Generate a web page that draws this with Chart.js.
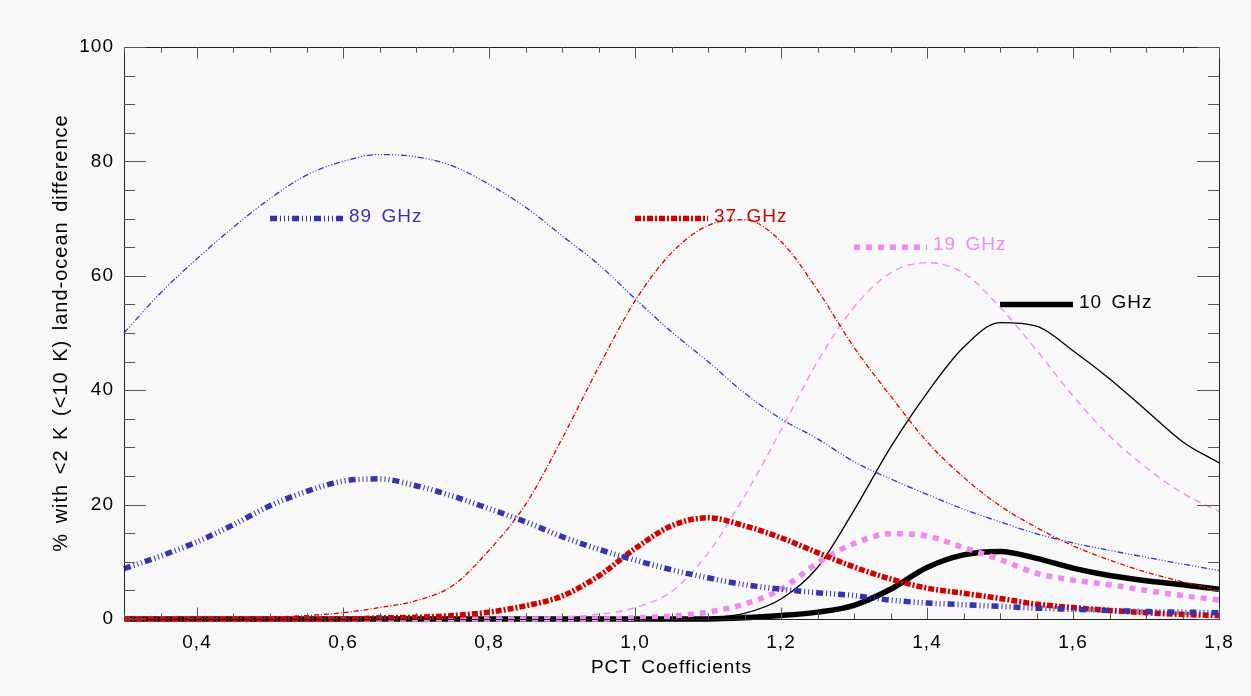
<!DOCTYPE html>
<html>
<head>
<meta charset="utf-8">
<script src="https://cdn.jsdelivr.net/npm/chart.js@4"></script>
<style>
  html, body { margin: 0; padding: 0; background: #f8f8f8; }
  #wrap { width: 1251px; height: 696px; }
</style>
</head>
<body>
<div id="wrap"><canvas id="grafico" width="1251" height="696"></canvas></div>
<script>
// coeficientes PCT (eje x)
var coefs = [0.30, 0.35, 0.40, 0.45, 0.50, 0.55, 0.60, 0.65, 0.70, 0.75, 0.80,
             0.85, 0.90, 0.95, 1.00, 1.05, 1.10, 1.15, 1.20, 1.25, 1.30,
             1.35, 1.40, 1.45, 1.50, 1.55, 1.60, 1.65, 1.70, 1.75, 1.80];

// % con diferencia tierra-oceano < 10 K (lineas finas)
var g89_10K = [50, 57, 63, 68.5, 73.5, 77.6, 80, 81.2, 80.8, 79.2, 76,
               72, 67, 62, 56, 50.2, 45, 39.5, 35, 31.5, 27.5,
               24.5, 21.8, 19.2, 17, 14.9, 13.3, 12, 10.8, 9.6, 8.5];
var g37_10K = [0, 0, 0, 0.1, 0.3, 0.6, 1.1, 2, 3.2, 5.8, 12,
               20, 31.5, 44, 55.6, 64, 68.8, 69.8, 66, 57.5, 47.5,
               39, 31, 24.8, 19.8, 16, 12.8, 10.3, 8.2, 6.5, 5];
var g19_10K = [0, 0, 0, 0, 0, 0, 0, 0, 0, 0, 0,
               0.2, 0.4, 0.8, 2, 4.8, 11.5, 21.5, 33, 45, 54.5,
               60.5, 62.3, 60.5, 54.5, 47, 39, 32, 26.5, 22, 18.8];
var g10_10K = [0, 0, 0, 0, 0, 0, 0, 0, 0, 0, 0,
               0, 0, 0, 0, 0, 0.2, 1, 3.5, 9, 19,
               30, 39.5, 47.5, 51.8, 51.2, 46.9, 42, 36.5, 31, 27.3];

// % con diferencia < 2 K (lineas gruesas)
var g89_2K = [8.8, 11, 13.5, 16.5, 19.8, 22.3, 24.1, 24.5, 23.3, 21.5, 19.3,
              17, 14.4, 12.2, 10.3, 8.6, 7.2, 6, 5.2, 4.6, 4.1,
              3.3, 2.8, 2.5, 2.2, 1.9, 1.7, 1.5, 1.3, 1.2, 1.1];
var g37_2K = [0, 0, 0, 0, 0, 0, 0, 0.2, 0.3, 0.6, 1.2,
              2.3, 4, 7.5, 12.3, 16.3, 17.7, 16.3, 14.2, 11.6, 9.1,
              7, 5.4, 4.5, 3.6, 2.6, 2, 1.5, 1.1, 0.8, 0.6];
var g19_2K = [0, 0, 0, 0, 0, 0, 0, 0, 0, 0, 0,
              0, 0, 0, 0.2, 0.5, 1.2, 2.6, 5.2, 9.8, 13.2,
              14.9, 14.5, 12.5, 10.4, 8, 6.8, 6, 5, 4.1, 3.3];
var g10_2K = [0, 0, 0, 0, 0, 0, 0, 0, 0, 0, 0,
              0, 0, 0, 0, 0, 0, 0.2, 0.6, 1.2, 2.4,
              5.2, 9, 11.2, 11.8, 10.6, 8.9, 7.6, 6.7, 6, 5.2];

var etiquetas = ['89 GHz', '37 GHz', '19 GHz', '10 GHz'];
var ticksX = [0.4, 0.6, 0.8, 1.0, 1.2, 1.4, 1.6, 1.8];
var ticksY = [0, 20, 40, 60, 80, 100];

// estilos por frecuencia
var colores = ['#3434b0', '#d40000', '#ee8aee', '#000000'];
var trazoFino = [[6, 2, 1, 2, 1, 2, 1, 2], [5, 2, 1, 2], [7, 5], []];
var trazoGrueso = [[7, 3, 1, 3, 1, 3, 1, 3], [6, 2, 2, 2], [6, 6], []];
// posicion de la leyenda dentro del grafico
var leyenda = [
  {x0: 0.5, x1: 0.6, y: 70},
  {x0: 1.0, x1: 1.1, y: 70},
  {x0: 1.3, x1: 1.4, y: 65},
  {x0: 1.5, x1: 1.6, y: 55}
];

var fuente = 'Liberation Sans';

function pares(valores) {
  return valores.map(function (v, i) { return {x: coefs[i], y: v}; });
}

var finos = [g89_10K, g37_10K, g19_10K, g10_10K];
var gruesos = [g89_2K, g37_2K, g19_2K, g10_2K];
var xDato = [];

for (var i = 0; i < 4; i++) {
  xDato.push({
    label: etiquetas[i] + ' <10 K',
    data: pares(finos[i]),
    borderColor: colores[i],
    borderWidth: 1.3,
    borderDash: trazoFino[i],
    cubicInterpolationMode: 'monotone',
    clip: 8
  });
  xDato.push({
    label: etiquetas[i] + ' <2 K',
    data: pares(gruesos[i]),
    borderColor: colores[i],
    borderWidth: 5.5,
    borderDash: trazoGrueso[i],
    cubicInterpolationMode: 'monotone',
    clip: 8
  });
  xDato.push({
    label: etiquetas[i],
    data: [{x: leyenda[i].x0, y: leyenda[i].y}, {x: leyenda[i].x1, y: leyenda[i].y}],
    borderColor: colores[i],
    borderWidth: 5.5,
    borderDash: trazoGrueso[i],
    clip: 8
  });
}

// espaciado de letras parecido al de IDL
var espaciado = {
  id: 'espaciado',
  beforeDraw: function (chart) {
    chart.ctx.letterSpacing = '1px';
    chart.ctx.wordSpacing = '3px';
  }
};

// marco y marcas hacia dentro, como en IDL
var marcoIDL = {
  id: 'marcoIDL',
  afterDatasetsDraw: function (chart) {
    var ctx = chart.ctx, a = chart.chartArea;
    var sx = chart.scales.x, sy = chart.scales.y;
    var w = a.right - a.left, h = a.bottom - a.top;
    ctx.save();
    ctx.strokeStyle = '#222';
    ctx.lineWidth = 1;
    ctx.strokeRect(Math.round(a.left) + 0.5, Math.round(a.top) + 0.5, Math.round(w), Math.round(h));
    ctx.strokeStyle = '#555';
    ctx.beginPath();
    var v, px, largo;
    for (v = 0.3; v <= 1.8001; v += 0.05) {
      px = Math.round(sx.getPixelForValue(v)) + 0.5;
      largo = (Math.abs(v * 10 - Math.round(v * 10)) < 0.01 && Math.round(v * 10) % 2 === 0) ? h * 0.02 : h * 0.01;
      ctx.moveTo(px, a.bottom); ctx.lineTo(px, a.bottom - largo);
      ctx.moveTo(px, a.top); ctx.lineTo(px, a.top + largo);
    }
    for (v = 0; v <= 100; v += 5) {
      px = Math.round(sy.getPixelForValue(v)) + 0.5;
      largo = (v % 20 === 0) ? w * 0.02 : w * 0.01;
      ctx.moveTo(a.left, px); ctx.lineTo(a.left + largo, px);
      ctx.moveTo(a.right, px); ctx.lineTo(a.right - largo, px);
    }
    ctx.stroke();
    // textos de la leyenda
    ctx.font = '19px "' + fuente + '"';
    ctx.textBaseline = 'middle';
    ctx.textAlign = 'left';
    for (var i = 0; i < leyenda.length; i++) {
      ctx.fillStyle = colores[i];
      ctx.fillText(etiquetas[i], sx.getPixelForValue(leyenda[i].x1) + 6, sy.getPixelForValue(leyenda[i].y) - 2);
    }
    ctx.restore();
  }
};

var ctx = document.getElementById('grafico').getContext('2d');
var chart = new Chart(ctx, {
  type: 'line',
  data: {datasets: xDato},
  options: {
    responsive: false,
    animation: false,
    devicePixelRatio: 1,
    layout: {padding: {left: 0, right: 32, top: 47, bottom: 0}},
    elements: {point: {radius: 0}},
    plugins: {legend: {display: false}, tooltip: {enabled: false}},
    scales: {
      x: {
        type: 'linear', min: 0.3, max: 1.8,
        grid: {display: false, drawTicks: false},
        border: {display: false},
        afterBuildTicks: function (s) { s.ticks = ticksX.map(function (v) { return {value: v}; }); },
        afterFit: function (s) { s.height = 77; },
        ticks: {
          padding: 12, color: '#000', maxRotation: 0, autoSkip: false,
          font: {family: fuente, size: 19},
          callback: function (v) { return v.toFixed(1).replace('.', ','); }
        },
        title: {display: true, text: 'PCT Coefficients', color: '#000', font: {family: fuente, size: 19}, padding: {top: 4, bottom: 17}}
      },
      y: {
        min: 0, max: 100,
        grid: {display: false, drawTicks: false},
        border: {display: false},
        afterBuildTicks: function (s) { s.ticks = ticksY.map(function (v) { return {value: v}; }); },
        afterFit: function (s) { s.width = 124; },
        ticks: {padding: 10, color: '#000', font: {family: fuente, size: 19}},
        title: {display: true, text: '% with <2 K (<10 K) land-ocean difference', color: '#000', font: {family: fuente, size: 20}, padding: {top: 49, bottom: 0}}
      }
    }
  },
  plugins: [espaciado, marcoIDL]
});
</script>
</body>
</html>
